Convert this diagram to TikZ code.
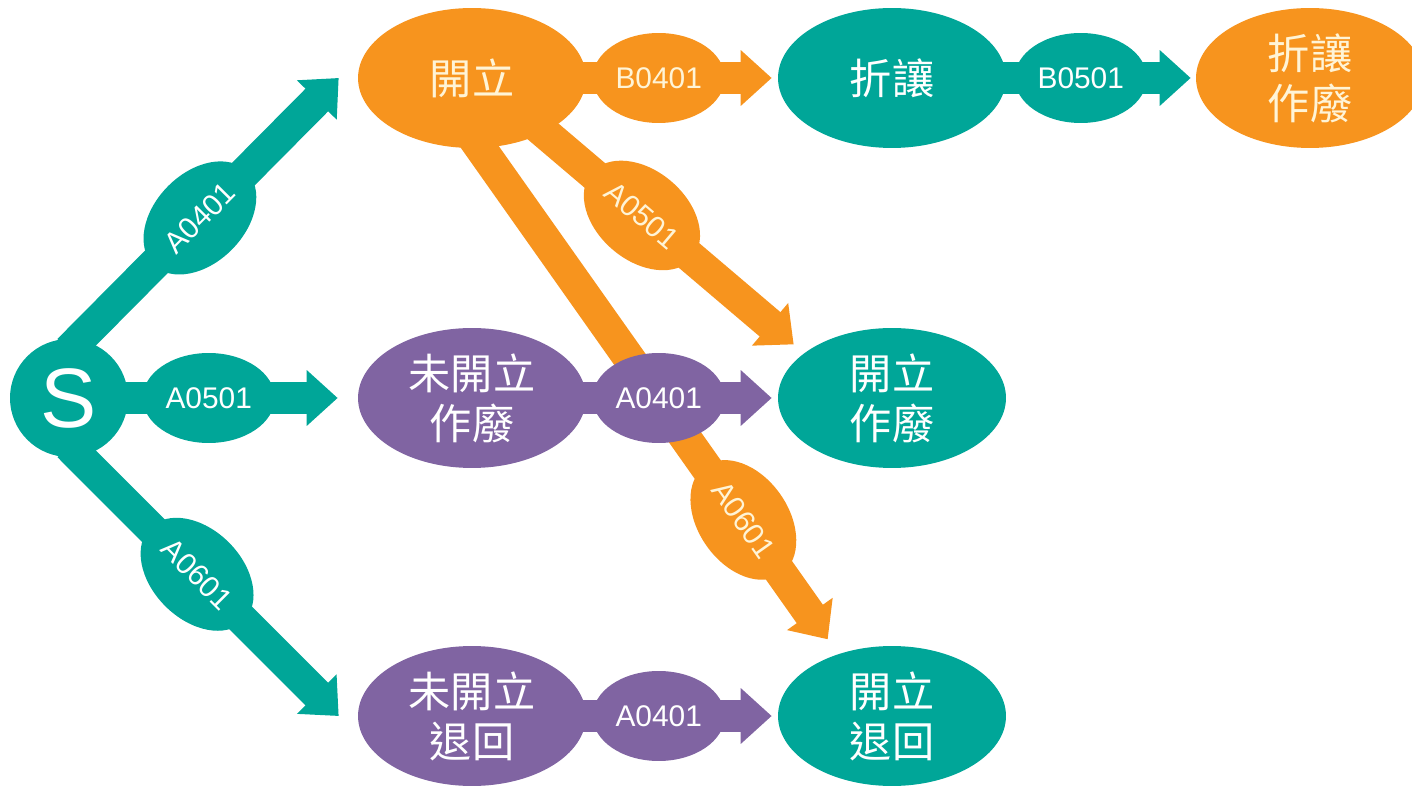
\documentclass[tikz,border=0pt]{standalone}
\usepackage{fontspec}
\setmainfont{Liberation Sans}
\newfontfamily\cjk{Noto Sans CJK TC}
\usepackage{tikz}
\usetikzlibrary{arrows.meta,
                backgrounds,
                shapes.geometric
                }

\definecolor{verde}{RGB}{0,166,152}
\definecolor{arancio}{RGB}{247,148,30}
\definecolor{viola}{RGB}{128,100,162}
\definecolor{crema}{RGB}{255,244,214}

\begin{document}
\begin{tikzpicture}[x=0.02cm, y=-0.02cm,
    stato/.style={ellipse, fill=#1, minimum width=4.56cm, minimum height=2.8cm,
      inner sep=0pt, align=center, text=white, font=\cjk\fontsize{24}{28.5}\selectfont},
    etichetta/.style={ellipse, fill=#1, minimum width=2.64cm, minimum height=1.8cm,
      inner sep=0pt, text=white, font=\fontsize{17}{20}\selectfont},
    freccia/.style={draw=#1, line width=0.64cm, -{Triangle[length=0.62cm,width=1.08cm]}}]
    \useasboundingbox (0,0) rectangle (1412,786);
    % Disegna gli stati
    \node[circle, fill=verde, minimum size=2.36cm, inner sep=0pt, text=white,
      font=\fontsize{48}{50}\selectfont] (S) at (69,398) {S};
    \node[stato=arancio, text=crema] (kaili) at (472,78) {開立};
    \node[stato=verde] (zherang) at (892,78) {折讓};
    \node[stato=arancio, text=crema] (zrzf) at (1310,78) {折讓\\作廢};
    \node[stato=viola] (wkzf) at (472,398) {未開立\\作廢};
    \node[stato=verde] (kzf) at (892,398) {開立\\作廢};
    \node[stato=viola] (wkth) at (472,716) {未開立\\退回};
    \node[stato=verde] (kth) at (892,716) {開立\\退回};
    \begin{scope}[on background layer]
      % Frecce dalla S
      \draw[freccia=verde, shorten <=-0.3cm] (S.80) -- node[etichetta=verde, pos=.465, sloped] {A0401} ([xshift=-0.38cm]kaili.west);
      \draw[freccia=verde] (S.center) -- node[etichetta=verde, pos=.52] {A0501} ([xshift=-0.4cm]wkzf.west);
      \draw[freccia=verde, shorten <=-0.3cm] (S.-80) -- node[etichetta=verde, pos=.454, sloped] {A0601} ([xshift=-0.38cm]wkth.west);
      % Frecce da Aperto
      \draw[freccia=arancio, shorten <=-0.3cm, shorten >=0.27cm] (kaili.-37) -- node[etichetta=arancio, text=crema, pos=.376, sloped] {A0501} (kzf.153);
      \draw[freccia=arancio, shorten <=-0.3cm, shorten >=0.36cm] (kaili.-83) -- node[etichetta=arancio, text=crema, pos=.735, sloped] {A0601} (kth.131);
      \draw[freccia=arancio] (kaili.center) -- node[etichetta=arancio, text=crema, pos=.623] {B0401} ([xshift=-0.12cm]zherang.west);
      \draw[freccia=verde] (zherang.center) -- node[etichetta=verde, pos=.632] {B0501} ([xshift=-0.1cm]zrzf.west);
      % Frecce dai non aperti
      \draw[freccia=viola] (wkzf.center) -- node[etichetta=viola, pos=.623] {A0401} ([xshift=-0.12cm]kzf.west);
      \draw[freccia=viola] (wkth.center) -- node[etichetta=viola, pos=.623] {A0401} ([xshift=-0.12cm]kth.west);
    \end{scope}
\end{tikzpicture}
\end{document}
